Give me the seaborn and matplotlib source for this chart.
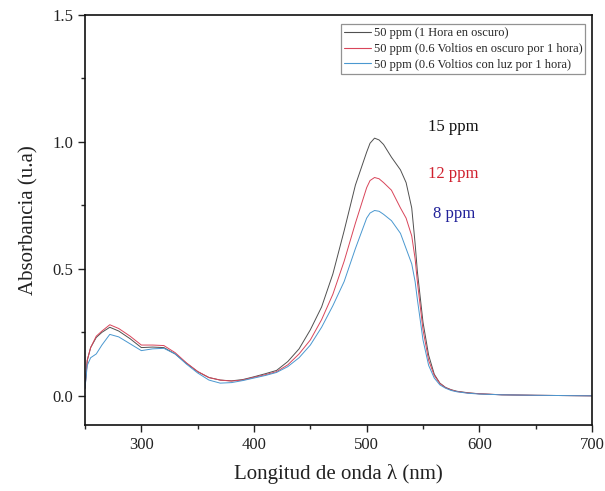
import numpy as np
import pandas as pd
import matplotlib
matplotlib.use("Agg")
import matplotlib.pyplot as plt
import seaborn as sns
from matplotlib.ticker import MultipleLocator

wavelength = [250, 252, 255, 260, 265, 272, 280, 290, 300, 310, 320, 330, 340, 350, 360, 370, 380,
              390, 400, 410, 420, 430, 440, 450, 460, 470, 480, 490, 500, 503, 507, 511, 515, 522, 530,
              535, 540, 543, 545, 550, 555, 560, 565, 570, 575, 580, 590, 600, 620, 650, 700]
abs_15ppm = [0.03, 0.14, 0.19, 0.23, 0.25, 0.27, 0.255, 0.225, 0.19, 0.192, 0.19, 0.165, 0.128, 0.095,
             0.072, 0.062, 0.059, 0.064, 0.075, 0.087, 0.10, 0.135, 0.185, 0.26, 0.35, 0.48, 0.65, 0.83,
             0.96, 0.995, 1.015, 1.008, 0.99, 0.94, 0.89, 0.84, 0.74, 0.60, 0.49, 0.29, 0.16, 0.085, 0.05,
             0.033, 0.024, 0.018, 0.012, 0.008, 0.004, 0.002, 0.0]
abs_12ppm = [0.03, 0.14, 0.19, 0.235, 0.255, 0.28, 0.265, 0.235, 0.2, 0.2, 0.198, 0.17, 0.13, 0.096,
             0.072, 0.062, 0.058, 0.062, 0.073, 0.083, 0.095, 0.122, 0.165, 0.22, 0.30, 0.40, 0.53, 0.68,
             0.82, 0.848, 0.86, 0.855, 0.84, 0.81, 0.74, 0.70, 0.63, 0.54, 0.45, 0.26, 0.14, 0.08, 0.048,
             0.032, 0.023, 0.017, 0.011, 0.008, 0.004, 0.002, 0.0]
abs_8ppm = [0.03, 0.12, 0.15, 0.165, 0.2, 0.242, 0.232, 0.205, 0.178, 0.185, 0.187, 0.165, 0.125, 0.09,
            0.062, 0.05, 0.052, 0.06, 0.07, 0.08, 0.092, 0.115, 0.15, 0.2, 0.27, 0.355, 0.45, 0.58,
            0.70, 0.72, 0.73, 0.727, 0.715, 0.69, 0.64, 0.58, 0.52, 0.45, 0.38, 0.22, 0.12, 0.07, 0.043,
            0.03, 0.021, 0.016, 0.01, 0.007, 0.004, 0.002, 0.0]

series_labels = ["50 ppm (1 Hora en oscuro)",
                 "50 ppm (0.6 Voltios en oscuro por 1 hora)",
                 "50 ppm (0.6 Voltios con luz por 1 hora)"]
line_colors = ["#505050", "#d9455a", "#4a98d0"]
annot_texts = ["15 ppm", "12 ppm", "8 ppm"]
annot_colors = ["#111111", "#d0202e", "#22229a"]
annot_y = [1.06, 0.873, 0.715]
annot_x = [577, 577, 578]

frames = []
for lab, vals in zip(series_labels, [abs_15ppm, abs_12ppm, abs_8ppm]):
    frames.append(pd.DataFrame({"wl": wavelength, "A": vals, "serie": lab}))
df = pd.concat(frames, ignore_index=True)

sns.set_style("ticks")
plt.rcParams["font.family"] = ["Liberation Serif", "DejaVu Serif"]
plt.rcParams["mathtext.fontset"] = "stix"

fig = plt.figure(figsize=(6.05, 4.91), dpi=100)
ax = fig.add_axes([0.1405, 0.1344, 0.838, 0.835])

sns.lineplot(data=df, x="wl", y="A", hue="serie", hue_order=series_labels,
             palette=line_colors, linewidth=0.7, ax=ax, legend=True)

ax.set_xlim(250, 700)
ax.set_ylim(-0.115, 1.5)
ax.xaxis.set_major_locator(MultipleLocator(100))
ax.xaxis.set_minor_locator(MultipleLocator(50))
ax.yaxis.set_major_locator(MultipleLocator(0.5))
ax.yaxis.set_minor_locator(MultipleLocator(0.25))
ax.yaxis.set_major_formatter(matplotlib.ticker.FormatStrFormatter("%.1f"))
ax.tick_params(axis="both", which="major", direction="out", length=5, width=1.0,
               labelsize=12, colors="#222222", top=False, right=False)
ax.tick_params(axis="both", which="minor", direction="out", length=3, width=1.0,
               top=False, right=False)
for s in ax.spines.values():
    s.set_linewidth(1.2)
    s.set_color("#111111")

ax.set_xlabel("Longitud de onda λ (nm)", fontsize=15, color="#222222", labelpad=8)
ax.set_ylabel("Absorbancia (u.a)", fontsize=15, color="#222222", labelpad=10)

for t, c, x, y in zip(annot_texts, annot_colors, annot_x, annot_y):
    ax.text(x, y, t, color=c, fontsize=12, ha="center", va="center")

leg = ax.legend(loc="upper right", bbox_to_anchor=(0.987, 0.978), fontsize=9,
                frameon=True, fancybox=False, handlelength=2.1, handletextpad=0.25,
                borderpad=0.25, labelspacing=0.3, borderaxespad=0.0)
leg.get_frame().set_edgecolor("#777777")
leg.get_frame().set_linewidth(0.9)
for line in leg.get_lines():
    line.set_linewidth(0.8)

fig.savefig("out.png", dpi=100)
